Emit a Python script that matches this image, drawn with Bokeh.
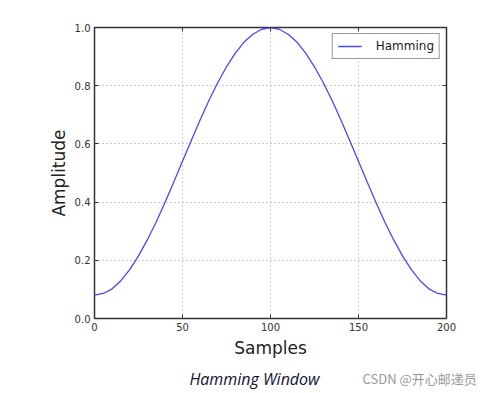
from bokeh.plotting import figure
from bokeh.layouts import column
from bokeh.core.properties import value
from bokeh.models import LinearAxis, Range1d, FixedTicker, Legend, LegendItem, ColumnDataSource, NumeralTickFormatter
from bokeh.embed import file_html
from bokeh.resources import INLINE

samples = [0, 5, 10, 15, 20, 25, 30, 35, 40, 45, 50, 55, 60, 65, 70, 75, 80, 85, 90, 95, 100,
           105, 110, 115, 120, 125, 130, 135, 140, 145, 150, 155, 160, 165, 170, 175, 180, 185, 190, 195, 200]
amplitude = [0.080, 0.086, 0.102, 0.130, 0.168, 0.215, 0.270, 0.331, 0.398, 0.468, 0.540,
             0.612, 0.682, 0.749, 0.810, 0.865, 0.912, 0.950, 0.977, 0.994, 1.000,
             0.994, 0.977, 0.950, 0.912, 0.865, 0.810, 0.749, 0.682, 0.612, 0.540,
             0.468, 0.398, 0.331, 0.270, 0.215, 0.168, 0.130, 0.102, 0.086, 0.080]
x_ticks = [0, 50, 100, 150, 200]
y_ticks = [0.0, 0.2, 0.4, 0.6, 0.8, 1.0]
series_name = "Hamming"
x_label = "Samples"
y_label = "Amplitude"
caption = "Hamming Window"
watermark = "CSDN @开心邮递员"

W = 487
LEFT, RIGHT = 94, 41
p = figure(width=W, height=360, output_backend="svg", toolbar_location=None,
           x_range=Range1d(0, 200), y_range=Range1d(0, 1),
           x_axis_location=None, y_axis_location=None,
           min_border_left=LEFT, min_border_right=RIGHT, min_border_top=27, min_border_bottom=39)
p.background_fill_color = "white"
p.border_fill_color = "white"
p.outline_line_color = "#333333"
p.outline_line_width = 1.5

def mk_axis(show_labels, label=None):
    ax = LinearAxis()
    ax.axis_line_color = None
    ax.major_tick_in = 4
    ax.major_tick_out = 0
    ax.major_tick_line_color = "#333333"
    ax.minor_tick_line_color = None
    ax.major_label_text_font = "DejaVu Sans"
    ax.major_label_text_font_size = "10px"
    ax.major_label_text_color = "#333333"
    ax.major_label_standoff = 4
    if not show_labels:
        ax.major_label_text_alpha = 0
        ax.major_label_text_font_size = "1px"
        ax.major_label_standoff = 0
    if label:
        ax.axis_label = label
        ax.axis_label_text_font = "DejaVu Sans"
        ax.axis_label_text_font_size = "17px"
        ax.axis_label_text_font_style = "normal"
        ax.axis_label_text_color = "#222222"
    return ax

xb = mk_axis(True, x_label)
xb.ticker = FixedTicker(ticks=x_ticks)
xb.axis_label_standoff = 4
p.add_layout(xb, "below")
yl = mk_axis(True, y_label)
yl.ticker = FixedTicker(ticks=y_ticks)
yl.formatter = NumeralTickFormatter(format="0.0")
yl.axis_label_standoff = 3
p.add_layout(yl, "left")
xt = mk_axis(False)
xt.ticker = FixedTicker(ticks=x_ticks)
p.add_layout(xt, "above")
yr = mk_axis(False)
yr.ticker = FixedTicker(ticks=y_ticks)
p.add_layout(yr, "right")

p.xgrid.ticker = FixedTicker(ticks=x_ticks)
p.ygrid.ticker = FixedTicker(ticks=y_ticks)
for g in (p.xgrid, p.ygrid):
    g.grid_line_color = "#9a9a9a"
    g.grid_line_dash = "1 3"
    g.grid_line_width = 1

src = ColumnDataSource(dict(x=samples, y=amplitude))
r = p.line("x", "y", source=src, line_color="#4848f8", line_width=1.3)

legend = Legend(items=[LegendItem(label=series_name, renderers=[r])], location="top_right")
legend.margin = 6
legend.padding = 5
legend.spacing = 0
legend.border_line_color = "#333333"
legend.border_line_width = 1.2
legend.label_text_font = "DejaVu Sans"
legend.label_text_font_size = "12px"
legend.label_text_color = "#222222"
legend.glyph_width = 24
legend.label_standoff = 14
legend.label_height = 14
legend.glyph_height = 14
p.add_layout(legend, "center")

# caption strip below the chart: full-width frame, same horizontal mapping as the chart
frame_w = W - LEFT - RIGHT
x0 = 0 - LEFT * 200 / frame_w
x1 = 200 + RIGHT * 200 / frame_w
p2 = figure(width=W, height=30, output_backend="svg", toolbar_location=None,
            x_range=Range1d(x0, x1), y_range=Range1d(0, 1),
            x_axis_location=None, y_axis_location=None,
            min_border_left=0, min_border_right=0, min_border_top=0, min_border_bottom=0)
if "frame_align" in p2.properties():
    p2.frame_align = False
    p.frame_align = False
p2.outline_line_color = None
p2.xgrid.visible = False
p2.ygrid.visible = False
p2.background_fill_color = "white"
p2.border_fill_color = "white"
cap_src = ColumnDataSource(dict(x=[90.9], y=[0.4], t=[caption]))
p2.text("x", "y", text="t", source=cap_src, text_font=value("Open Sans"),
        text_font_style="italic", text_font_size="16px", text_color="#111133",
        text_align="center", text_baseline="middle")
wm_src = ColumnDataSource(dict(x=[152.3], y=[0.4], t=[watermark]))
p2.text("x", "y", text="t", source=wm_src, text_font=value("Noto Sans CJK SC"),
        text_font_size="13px", text_color="#9a9a9a",
        text_align="left", text_baseline="middle")

layout = column(p, p2, spacing=0)
open("out.html", "w").write(file_html(layout, INLINE))
